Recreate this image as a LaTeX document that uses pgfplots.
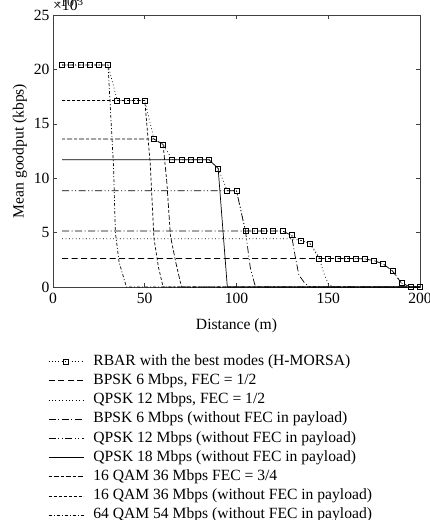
\documentclass[border=0pt]{standalone}
\usepackage{fontspec}
\setmainfont{Liberation Serif}
\usepackage{pgfplots}
\pgfplotsset{compat=1.18}
\begin{document}
\begin{tikzpicture}[font=\fontsize{15.6}{18.5}\selectfont]
\begin{axis}[
  scale only axis, width=367pt, height=272pt,
  xmin=0, xmax=200, ymin=0, ymax=25000,
  xtick={0,50,...,200}, ytick={0,5000,...,25000},
  yticklabels={0,5,10,15,20,25},
  tick align=inside, major tick length=4pt,
  /pgf/number format/assume math mode=true,
  xlabel={Distance (m)}, ylabel={Mean goodput (kbps)},
  xticklabel style={yshift=-3pt},
  xlabel style={yshift=-8pt},
  axis line style={line width=0.8pt, black!75},
  every tick/.style={black!75, line width=0.6pt},
  clip=false,
  legend cell align=left,
  legend style={at={(axis description cs:0,0)}, anchor=north west, xshift=-5pt, yshift=-67pt,
    draw=none, fill=none, inner sep=0pt, row sep=4.7pt, column sep=9.5pt,
    nodes={inner sep=0pt, text height=11pt, text depth=3.5pt},
    font=\fontsize{15.6}{18.5}\selectfont},
  legend image code/.code={\draw[mark repeat=2,mark phase=2,#1] plot coordinates {(0pt,0pt) (17.5pt,0pt) (35pt,0pt)};},
  every axis plot/.append style={black, line width=0.7pt},
]
\addplot[dash pattern=on 0.8pt off 2.5pt, mark=square, mark size=2.5pt, mark options={solid}] coordinates {
(5,20400)(10,20400)(15,20400)(20,20400)(25,20400)(30,20400)(35,17150)(40,17150)(45,17150)(50,17150)
(55,13600)(60,13100)(65,11700)(70,11700)(75,11700)(80,11700)(85,11700)(90,10900)(95,8850)(100,8850)
(105,5150)(110,5150)(115,5150)(120,5150)(125,5150)(130,4750)(135,4280)(140,4000)(145,2620)(150,2620)
(155,2620)(160,2620)(165,2620)(170,2570)(175,2420)(180,2110)(185,1470)(190,340)(195,0)(200,0)};
\addlegendentry{RBAR with the best modes (H-MORSA)}
\addplot[dash pattern=on 6pt off 3.5pt] coordinates {
(5,2620)(165,2620)(170,2570)(175,2420)(180,2110)(185,1470)(190,340)(195,0)(200,0)};
\addlegendentry{BPSK 6 Mbps, FEC = 1/2}
\addplot[dash pattern=on 0.8pt off 2.6pt] coordinates {
(5,4440)(130,4440)(135,4280)(140,4000)(142,3550)(145,2750)(147.5,1300)(150,300)(153,0)(200,0)};
\addlegendentry{QPSK 12 Mbps, FEC = 1/2}
\addplot[dash pattern=on 7pt off 2.5pt on 1pt off 2.5pt] coordinates {
(5,5150)(125,5150)(130,4750)(132,2800)(134,1100)(137,400)(140,0)(200,0)};
\addlegendentry{BPSK 6 Mbps (without FEC in payload)}
\addplot[dash pattern=on 7pt off 2.5pt on 1pt off 2.5pt on 1pt off 2.5pt] coordinates {
(5,8850)(100,8850)(105,5000)(107.5,1800)(110,200)(112,0)(200,0)};
\addlegendentry{QPSK 12 Mbps (without FEC in payload)}
\addplot[solid] coordinates {
(5,11700)(85,11700)(90,10900)(95,0)(200,0)};
\addlegendentry{QPSK 18 Mbps (without FEC in payload)}
\addplot[dash pattern=on 3pt off 2pt on 5pt off 2pt] coordinates {
(5,13600)(55,13600)(60,13100)(62,9700)(64,4700)(67,2200)(70,0)(200,0)};
\addlegendentry{16 QAM 36 Mbps FEC = 3/4}
\addplot[dash pattern=on 3pt off 2pt] coordinates {
(5,17150)(50,17150)(53,11300)(55,4500)(57.5,1800)(60,0)(200,0)};
\addlegendentry{16 QAM 36 Mbps (without FEC in payload)}
\addplot[dash pattern=on 3pt off 2pt on 1pt off 2pt] coordinates {
(5,20400)(30,20400)(33,11000)(34,5000)(36,2300)(40,0)(200,0)};
\addlegendentry{64 QAM 54 Mbps (without FEC in payload)}
\node[anchor=south west, inner sep=0pt, yshift=4pt] at (rel axis cs:0,1) {×10\textsuperscript{3}};
\end{axis}
\pgfresetboundingbox
\path[use as bounding box] (-53pt,-233pt) rectangle (377pt,287pt);
\end{tikzpicture}
\end{document}
